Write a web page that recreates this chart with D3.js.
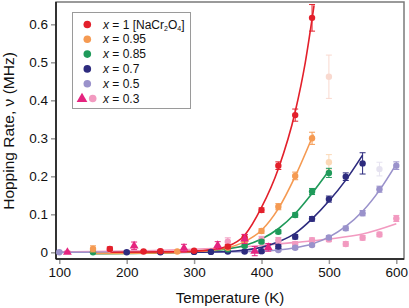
<!DOCTYPE html>
<html>
<head>
<meta charset="utf-8">
<script src="https://cdn.jsdelivr.net/npm/d3@7"></script>
<style>
  body { margin: 0; background: #fff; }
  svg { font-family: Arial, "Liberation Sans", sans-serif; }
</style>
</head>
<body>
<div id="chart"></div>
<script>
// measured points (T in K, rate in MHz, error in MHz)
const redT = [175, 225, 250, 300, 350, 375, 400, 425, 450, 475];
const redV = [0.009, 0.002, 0.003, 0.004, 0.015, 0.039, 0.111, 0.228, 0.361, 0.617];
const redE = [0.005, 0.003, 0.003, 0.003, 0.005, 0.008, 0.006, 0.01, 0.016, 0.035];

const orangeT = [150, 275, 350, 375, 400, 425, 450, 475];
const orangeV = [0.009, 0.002, 0.012, 0.03, 0.056, 0.12, 0.201, 0.3];
const orangeE = [0.008, 0.003, 0.004, 0.005, 0.006, 0.008, 0.01, 0.016];

const greenT = [150, 350, 375, 400, 425, 450, 475, 500];
const greenV = [0, 0.008, 0.017, 0.028, 0.054, 0.098, 0.16, 0.209];
const greenE = [0.003, 0.003, 0.004, 0.004, 0.005, 0.006, 0.008, 0.012];

const navyT = [200, 250, 300, 325, 350, 375, 400, 425, 450, 475, 500, 525, 550];
const navyV = [0, 0, 0.001, 0.001, 0.002, 0.002, 0.003, 0.015, 0.041, 0.088, 0.14, 0.199, 0.234];
const navyE = [0.003, 0.003, 0.003, 0.003, 0.003, 0.003, 0.004, 0.005, 0.006, 0.006, 0.008, 0.01, 0.028];

const lilacT = [100, 400, 425, 450, 475, 500, 525, 550, 575, 600];
const lilacV = [0, 0.003, 0.006, 0.012, 0.019, 0.039, 0.063, 0.103, 0.166, 0.228];
const lilacE = [0.003, 0.003, 0.003, 0.004, 0.004, 0.005, 0.006, 0.007, 0.008, 0.01];

const pinkT = [175, 250, 350, 375, 400, 425, 450, 475, 500, 525, 550, 575, 600];
const pinkV = [0.008, 0.003, 0.028, 0.03, 0.034, 0.032, 0.022, 0.032, 0.034, 0.022, 0.038, 0.047, 0.089];
const pinkE = [0.005, 0.004, 0.01, 0.008, 0.008, 0.007, 0.006, 0.006, 0.006, 0.006, 0.006, 0.006, 0.008];

const triT = [112, 211, 285, 335, 375, 390, 410];
const triV = [0, 0.017, 0.011, 0.018, 0.035, 0.003, 0.013];
const triE = [0.003, 0.01, 0.01, 0.01, 0.012, 0.012, 0.01];

// excluded (faded) points
const fadedT = [500, 500, 575];
const fadedV = [0.462, 0.237, 0.219];
const fadedE = [0.057, 0.02, 0.018];
const fadedColor = ["#f9d9cf", "#fbd8b6", "#e5e2f0"];

// fit curves
const redFit = [[175, 0], [250, 0.001], [300, 0.003], [325, 0.007], [350, 0.016], [375, 0.045], [400, 0.118], [425, 0.22], [450, 0.37], [465, 0.5], [478, 0.65]];
const orangeFit = [[150, -0.003], [250, -0.002], [300, 0.002], [325, 0.005], [350, 0.012], [375, 0.028], [400, 0.058], [425, 0.115], [450, 0.2], [477, 0.31]];
const greenFit = [[150, -0.004], [250, -0.002], [300, 0.002], [350, 0.009], [375, 0.018], [400, 0.035], [425, 0.062], [450, 0.102], [475, 0.155], [501, 0.217]];
const navyFit = [[200, -0.002], [300, 0], [350, 0.002], [375, 0.006], [400, 0.013], [425, 0.028], [450, 0.05], [475, 0.088], [500, 0.135], [525, 0.19], [550, 0.256]];
const lilacFit = [[100, 0], [300, 0], [400, 0.003], [425, 0.006], [450, 0.012], [475, 0.022], [500, 0.04], [525, 0.068], [550, 0.108], [575, 0.163], [600, 0.232]];
const pinkFit = [[100, 0.001], [200, 0.003], [300, 0.008], [350, 0.012], [400, 0.018], [450, 0.026], [500, 0.035], [550, 0.048], [600, 0.075]];

const xTicks = [100, 200, 300, 400, 500, 600];
const yTicks = [0, 0.1, 0.2, 0.3, 0.4, 0.5, 0.6];
const legendLabels = ["1", "0.95", "0.85", "0.7", "0.5", "0.3"];

const colors = {
  red: "#e3202b",
  orange: "#f59a52",
  green: "#1f9a5a",
  navy: "#2d2b7e",
  lilac: "#9a92cb",
  pink: "#f29ac0",
  magenta: "#e5247f"
};

const width = 409, height = 308;
const frame = { left: 56, right: 404, top: 2, bottom: 259 };

const x = d3.scaleLinear().domain([100, 600]).range([59.3, 396.3]);
const y = d3.scaleLinear().domain([0, 0.6]).range([252.3, 24.3]);

const svg = d3.select("#chart").append("svg")
  .attr("width", width).attr("height", height);

svg.append("defs").append("clipPath").attr("id", "plot")
  .append("rect")
  .attr("x", frame.left).attr("y", frame.top)
  .attr("width", frame.right - frame.left)
  .attr("height", frame.bottom - frame.top);

// frame: grey top/right, black left/bottom
svg.append("rect")
  .attr("x", frame.left).attr("y", frame.top)
  .attr("width", frame.right - frame.left)
  .attr("height", frame.bottom - frame.top)
  .attr("fill", "none").attr("stroke", "#7a7a7a").attr("stroke-width", 1.5);

// axes
const xAxis = svg.append("g")
  .attr("transform", `translate(0,${frame.bottom})`)
  .call(d3.axisBottom(x).tickValues(xTicks).tickSize(5).tickPadding(3).tickFormat(d3.format("d")));
const yAxis = svg.append("g")
  .attr("transform", `translate(${frame.left},0)`)
  .call(d3.axisLeft(y).tickValues(yTicks).tickSize(5).tickPadding(3).tickFormat((d) => (d === 0 ? "0" : d3.format(".1f")(d))));
[xAxis, yAxis].forEach((g) => {
  g.select(".domain").remove();
  g.selectAll(".tick line").attr("stroke", "#9a9a9a").attr("stroke-width", 1.5);
  g.selectAll(".tick text").attr("fill", "#111").style("font-size", "13.5px");
});
svg.append("line")
  .attr("x1", frame.left).attr("x2", frame.right)
  .attr("y1", frame.bottom).attr("y2", frame.bottom)
  .attr("stroke", "#111").attr("stroke-width", 1.5);
svg.append("line")
  .attr("x1", frame.left).attr("x2", frame.left)
  .attr("y1", frame.top).attr("y2", frame.bottom)
  .attr("stroke", "#111").attr("stroke-width", 1.5);

// axis titles
svg.append("text")
  .attr("x", 230).attr("y", 303)
  .attr("text-anchor", "middle")
  .style("font-size", "15px").attr("fill", "#111")
  .text("Temperature (K)");
svg.append("text")
  .attr("transform", "translate(14,131) rotate(-90)")
  .attr("text-anchor", "middle")
  .style("font-size", "15.5px").attr("fill", "#111")
  .text("Hopping Rate, ν (MHz)");

const plot = svg.append("g").attr("clip-path", "url(#plot)");

function errorBars(g, T, V, E, color, opacity = 1) {
  const cap = 3;
  const rows = T.map((t, i) => ({ t, v: V[i], e: E[i] }));
  const eb = g.append("g").attr("stroke", color).attr("stroke-width", 1).attr("opacity", opacity);
  eb.selectAll("line.v").data(rows).join("line")
    .attr("x1", (d) => x(d.t)).attr("x2", (d) => x(d.t))
    .attr("y1", (d) => y(d.v - d.e)).attr("y2", (d) => y(d.v + d.e));
  eb.selectAll("line.t").data(rows).join("line")
    .attr("x1", (d) => x(d.t) - cap).attr("x2", (d) => x(d.t) + cap)
    .attr("y1", (d) => y(d.v + d.e)).attr("y2", (d) => y(d.v + d.e));
  eb.selectAll("line.b").data(rows).join("line")
    .attr("x1", (d) => x(d.t) - cap).attr("x2", (d) => x(d.t) + cap)
    .attr("y1", (d) => y(d.v - d.e)).attr("y2", (d) => y(d.v - d.e));
}

// faded (excluded) points
const fadedRows = fadedT.map((t, i) => ({ t, v: fadedV[i], e: fadedE[i], c: fadedColor[i] }));
fadedRows.forEach((d) => errorBars(plot, [d.t], [d.v], [d.e], d.c));
plot.selectAll("circle.faded").data(fadedRows).join("circle")
  .attr("class", "faded")
  .attr("cx", (d) => x(d.t)).attr("cy", (d) => y(d.v)).attr("r", 3.2)
  .attr("fill", (d) => d.c);

const line = d3.line().x((d) => x(d[0])).y((d) => y(d[1])).curve(d3.curveMonotoneX);

const series = [
  { T: pinkT, V: pinkV, E: pinkE, fit: pinkFit, color: colors.pink },
  { T: lilacT, V: lilacV, E: lilacE, fit: lilacFit, color: colors.lilac },
  { T: navyT, V: navyV, E: navyE, fit: navyFit, color: colors.navy },
  { T: greenT, V: greenV, E: greenE, fit: greenFit, color: colors.green },
  { T: orangeT, V: orangeV, E: orangeE, fit: orangeFit, color: colors.orange },
  { T: redT, V: redV, E: redE, fit: redFit, color: colors.red }
];

series.forEach((s) => {
  plot.append("path")
    .datum(s.fit)
    .attr("d", line)
    .attr("fill", "none")
    .attr("stroke", s.color)
    .attr("stroke-width", 1.6);
});

series.forEach((s) => {
  errorBars(plot, s.T, s.V, s.E, s.color);
  plot.append("g").selectAll("circle")
    .data(s.T.map((t, i) => ({ t, v: s.V[i] })))
    .join("circle")
    .attr("cx", (d) => x(d.t)).attr("cy", (d) => y(d.v)).attr("r", 3.2)
    .attr("fill", s.color);
});

// magenta triangles for x = 0.3
errorBars(plot, triT, triV, triE, colors.magenta);
const tri = d3.symbol().type(d3.symbolTriangle).size(34);
plot.append("g").selectAll("path")
  .data(triT.map((t, i) => ({ t, v: triV[i] })))
  .join("path")
  .attr("d", tri)
  .attr("transform", (d) => `translate(${x(d.t)},${y(d.v)})`)
  .attr("fill", colors.magenta);

// legend
const legend = svg.append("g");
legend.append("rect")
  .attr("x", 72.5).attr("y", 12.5).attr("width", 118).attr("height", 96)
  .attr("fill", "#fff").attr("stroke", "#9a9a9a").attr("stroke-width", 1);
const legendColors = [colors.red, colors.orange, colors.green, colors.navy, colors.lilac, colors.pink];
const rowY = d3.scaleLinear().domain([0, 5]).range([24.5, 98.5]);
legendLabels.forEach((lab, i) => {
  const cy = rowY(i);
  if (i === 5) {
    legend.append("path")
      .attr("d", d3.symbol().type(d3.symbolTriangle).size(50))
      .attr("transform", `translate(82,${cy + 0.5})`)
      .attr("fill", colors.magenta);
    legend.append("circle").attr("cx", 92.7).attr("cy", cy).attr("r", 3.8).attr("fill", colors.pink);
  } else {
    legend.append("circle").attr("cx", 87.3).attr("cy", cy).attr("r", 3.8).attr("fill", legendColors[i]);
  }
  const t = legend.append("text")
    .attr("x", 103).attr("y", cy + 4)
    .style("font-size", "12px").attr("fill", "#111");
  t.append("tspan").style("font-style", "italic").text("x");
  t.append("tspan").text(` = ${lab}`);
  if (i === 0) {
    t.append("tspan").text("  [NaCr");
    t.append("tspan").attr("dy", 2.5).style("font-size", "7px").text("2");
    t.append("tspan").attr("dy", -2.5).text("O");
    t.append("tspan").attr("dy", 2.5).style("font-size", "7px").text("4");
    t.append("tspan").attr("dy", -2.5).text("]");
  }
});
</script>
</body>
</html>
